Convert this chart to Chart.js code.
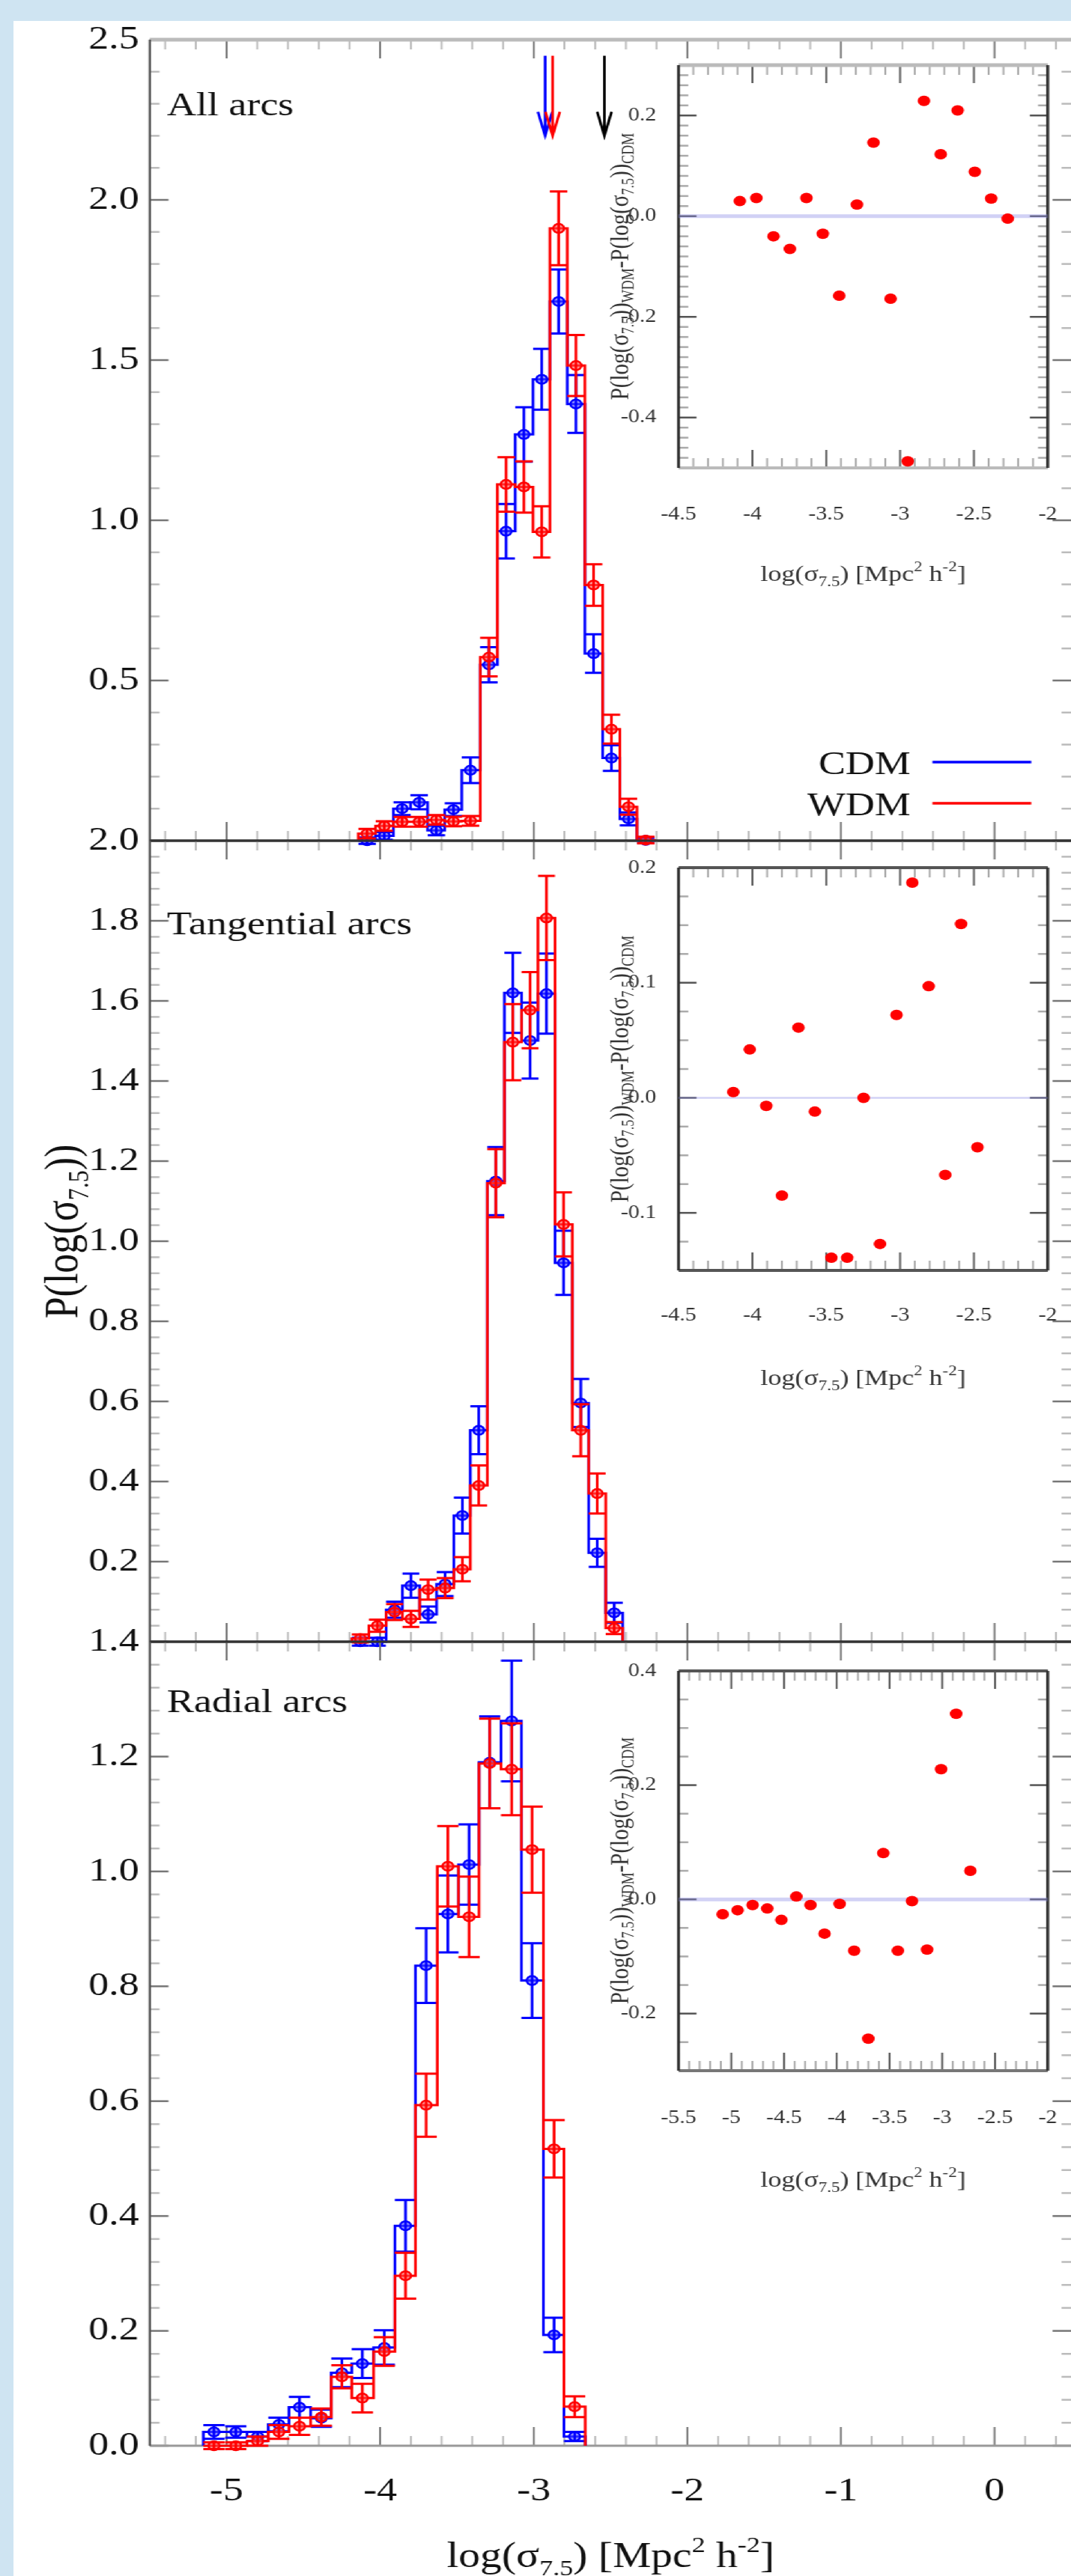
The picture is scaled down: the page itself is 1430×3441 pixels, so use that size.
<!DOCTYPE html>
<html>
<head>
<meta charset="utf-8">
<script src="https://cdn.jsdelivr.net/npm/chart.js@4.4.1/dist/chart.umd.min.js"></script>
<style>
  html, body { margin: 0; padding: 0; }
  body { width: 1430px; height: 3441px; background: #cfe4f2; position: relative; overflow: hidden; }
  #sheet { position: absolute; left: 18px; top: 28px; right: 0; bottom: 0; background: #fff; }
  /* the original figure is stretched sideways, so everything is drawn narrow and widened */
  #stretch { position: absolute; left: 0; top: 0; width: 1192px; height: 3441px; transform: scaleX(1.2); transform-origin: 0 0; }
  #stretch canvas { position: absolute; }
</style>
</head>
<body>
<div id="sheet"></div>
<div id="stretch"></div>
<script>
// --- DATA ---
// bin centres in log(sigma_7.5), values P(log(sigma_7.5)) with 1-sigma errors

// All arcs
const allBins = [-4.085, -3.973, -3.857, -3.746, -3.634, -3.523, -3.412, -3.292, -3.180, -3.064, -2.948, -2.838, -2.725, -2.610, -2.494, -2.383, -2.271];
const allBinWidth = 0.1134;
const allCDM = [0.000, 0.015, 0.100, 0.120, 0.032, 0.097, 0.220, 0.549, 0.966, 1.268, 1.440, 1.683, 1.363, 0.584, 0.258, 0.068, 0.001];
const allCDMErr = [0.010, 0.012, 0.020, 0.022, 0.015, 0.020, 0.040, 0.055, 0.085, 0.085, 0.095, 0.100, 0.090, 0.060, 0.040, 0.020, 0.008];
const allWDM = [0.022, 0.046, 0.059, 0.059, 0.065, 0.060, 0.062, 0.573, 1.112, 1.104, 0.964, 1.911, 1.483, 0.798, 0.348, 0.106, 0.002];
const allWDMErr = [0.015, 0.015, 0.015, 0.015, 0.015, 0.015, 0.015, 0.060, 0.085, 0.080, 0.080, 0.115, 0.095, 0.065, 0.045, 0.025, 0.010];
const allDiff = [0.030, 0.036, -0.040, -0.065, 0.036, -0.035, -0.158, 0.023, 0.146, -0.164, -0.487, 0.229, 0.123, 0.210, 0.088, 0.035, -0.005];

// Tangential arcs
const tanBins = [-4.129, -4.018, -3.906, -3.800, -3.688, -3.577, -3.465, -3.358, -3.247, -3.136, -3.024, -2.917, -2.806, -2.694, -2.587, -2.476];
const tanBinWidth = 0.1103;
const tanCDM = [0.000, 0.000, 0.080, 0.140, 0.068, 0.144, 0.315, 0.528, 1.150, 1.620, 1.501, 1.618, 0.946, 0.596, 0.222, 0.072];
const tanCDMErr = [0.010, 0.010, 0.020, 0.030, 0.020, 0.030, 0.045, 0.060, 0.085, 0.100, 0.095, 0.100, 0.080, 0.060, 0.035, 0.025];
const tanWDM = [0.008, 0.040, 0.074, 0.057, 0.130, 0.134, 0.181, 0.390, 1.145, 1.497, 1.577, 1.807, 1.042, 0.528, 0.370, 0.034];
const tanWDMErr = [0.010, 0.015, 0.020, 0.020, 0.025, 0.025, 0.030, 0.050, 0.085, 0.095, 0.095, 0.105, 0.080, 0.065, 0.050, 0.015];
const tanDiff = [0.005, 0.042, -0.007, -0.085, 0.061, -0.012, -0.139, -0.139, 0.000, -0.127, 0.072, 0.187, 0.097, -0.067, 0.151, -0.043];

// Radial arcs
const radBins = [-5.082, -4.940, -4.798, -4.659, -4.525, -4.383, -4.249, -4.116, -3.973, -3.835, -3.701, -3.559, -3.421, -3.287, -3.144, -3.011, -2.868, -2.734];
const radBinWidth = 0.1385;
const radCDM = [0.024, 0.024, 0.016, 0.037, 0.067, 0.048, 0.127, 0.143, 0.171, 0.383, 0.836, 0.926, 1.012, 1.190, 1.262, 0.810, 0.193, 0.016];
const radCDMErr = [0.012, 0.010, 0.008, 0.012, 0.018, 0.015, 0.025, 0.025, 0.030, 0.045, 0.065, 0.067, 0.070, 0.080, 0.105, 0.065, 0.030, 0.008];
const radWDM = [0.000, 0.000, 0.008, 0.024, 0.034, 0.050, 0.120, 0.083, 0.164, 0.296, 0.593, 1.009, 0.921, 1.188, 1.178, 1.038, 0.517, 0.068];
const radWDMErr = [0.006, 0.006, 0.008, 0.012, 0.015, 0.015, 0.020, 0.025, 0.025, 0.040, 0.055, 0.070, 0.070, 0.078, 0.080, 0.075, 0.050, 0.018];
const radDiff = [-0.026, -0.019, -0.010, -0.016, -0.036, 0.005, -0.010, -0.060, -0.008, -0.090, -0.244, 0.081, -0.090, -0.003, -0.088, 0.228, 0.325, 0.050];

// arrows in the top panel (CDM, WDM, reference)
const arrowX = [-2.926, -2.877, -2.540];
const arrowColors = ['#0000ff', '#ff0000', '#000000'];
const arrowTail = 2.45, arrowTip = 2.2;

// axes and tick labels
const mainXRange = [-5.5, 0.5];
const mainXTicks = [-5, -4, -3, -2, -1, 0];
const mainXLabels = ['-5', '-4', '-3', '-2', '-1', '0'];
const allYTicks = [0, 0.5, 1.0, 1.5, 2.0, 2.5];
const allYLabels = ['', '0.5', '1.0', '1.5', '2.0', '2.5'];
const tanYTicks = [0, 0.2, 0.4, 0.6, 0.8, 1.0, 1.2, 1.4, 1.6, 1.8, 2.0];
const tanYLabels = ['', '0.2', '0.4', '0.6', '0.8', '1.0', '1.2', '1.4', '1.6', '1.8', '2.0'];
const radYTicks = [0, 0.2, 0.4, 0.6, 0.8, 1.0, 1.2, 1.4];
const radYLabels = ['0.0', '0.2', '0.4', '0.6', '0.8', '1.0', '1.2', '1.4'];

const insetXRange = [-4.5, -2];
const insetXTicks = [-4.5, -4, -3.5, -3, -2.5, -2];
const insetXLabels = ['-4.5', '-4', '-3.5', '-3', '-2.5', '-2'];
const radInsetXRange = [-5.5, -2];
const radInsetXTicks = [-5.5, -5, -4.5, -4, -3.5, -3, -2.5, -2];
const radInsetXLabels = ['-5.5', '-5', '-4.5', '-4', '-3.5', '-3', '-2.5', '-2'];
const allInsetYRange = [-0.5, 0.3];
const allInsetYTicks = [-0.4, -0.2, 0, 0.2];
const allInsetYLabels = ['-0.4', '-0.2', '0.0', '0.2'];
const tanInsetYRange = [-0.15, 0.2];
const tanInsetYTicks = [-0.1, 0, 0.1, 0.2];
const tanInsetYLabels = ['-0.1', '0.0', '0.1', '0.2'];
const radInsetYRange = [-0.3, 0.4];
const radInsetYTicks = [-0.2, 0, 0.2, 0.4];
const radInsetYLabels = ['-0.2', '0.0', '0.2', '0.4'];

// --- STYLE ---
const S = 1.2; // sideways stretch of the figure
const BLUE = '#0000ff', RED = '#ff0000';
const SERIF = "'Liberation Serif', 'Times New Roman', 'DejaVu Serif', serif";
const X_TITLE = [['log(σ'], ['7.5', 'sub'], [') [Mpc'], ['2', 'sup'], [' h'], ['-2', 'sup'], [']']];
const Y_TITLE = [['P(log(σ'], ['7.5', 'sub'], ['))']];
const INSET_Y_TITLE = [['P(log(σ'], ['7.5', 'sub'], ['))'], ['WDM', 'sub'], ['-P(log(σ'], ['7.5', 'sub'], ['))'], ['CDM', 'sub']];

const $stretch = document.getElementById('stretch');

function addCanvas(left, top, width, height) {
    const c = document.createElement('canvas');
    c.width = Math.round(width);
    c.height = Math.round(height);
    c.style.left = left + 'px';
    c.style.top = top + 'px';
    $stretch.appendChild(c);
    return c;
}

// minor tick positions between min and max, skipping the major ones
function minorTicks(min, max, step, major) {
    const out = [];
    const n = Math.round((max - min) / step);
    for (let i = 0; i <= n; i++) {
        const v = +(min + i * step).toFixed(6);
        if (!major.some(m => Math.abs(m - v) < 1e-6)) out.push(v);
    }
    return out;
}

function zeroPad(s) {
    s.paddingTop = s.paddingBottom = s.paddingLeft = s.paddingRight = 0;
}

// text with sub/superscripts, y is the baseline
function drawRich(ctx, parts, x, y, size, color) {
    const small = Math.round(size * 0.62);
    const fontOf = kind => (kind ? small : size) + 'px ' + SERIF;
    let total = 0;
    parts.forEach(([t, kind]) => { ctx.font = fontOf(kind); total += ctx.measureText(t).width; });
    let cx = x - total / 2;
    ctx.fillStyle = color;
    ctx.textAlign = 'left';
    ctx.textBaseline = 'alphabetic';
    parts.forEach(([t, kind]) => {
        ctx.font = fontOf(kind);
        const dy = kind === 'sub' ? size * 0.22 : kind === 'sup' ? -size * 0.42 : 0;
        ctx.fillText(t, cx, y + dy);
        cx += ctx.measureText(t).width;
    });
}

function drawRichVertical(ctx, parts, cx, cy, size, color) {
    ctx.save();
    ctx.translate(cx, cy);
    ctx.rotate(-Math.PI / 2);
    drawRich(ctx, parts, 0, size * 0.3, size, color);
    ctx.restore();
}

// --- PLUGINS ---

// frame lines and inward ticks on all sides
function framePlugin(f) {
    return {
        id: 'frame',
        beforeDatasetsDraw(chart) {
            const { ctx, chartArea: a, scales: { x, y } } = chart;
            const seg = (x0, y0, x1, y1) => { ctx.beginPath(); ctx.moveTo(x0, y0); ctx.lineTo(x1, y1); ctx.stroke(); };
            ctx.save();
            ctx.lineWidth = 2.5;
            [[f.yMinor, f.minorLen, f.minorColor], [f.yMajor, f.majorLen, f.majorColor]].forEach(([vals, len, col]) => {
                ctx.strokeStyle = col;
                vals.forEach(v => {
                    const p = y.getPixelForValue(v);
                    seg(a.left, p, a.left + len / S, p);
                    seg(a.right, p, a.right - len / S, p);
                });
            });
            ctx.lineWidth = 2.5 / S;
            [[f.xMinor, f.minorLen, f.minorColor], [f.xMajor, f.majorLen, f.majorColor]].forEach(([vals, len, col]) => {
                ctx.strokeStyle = col;
                vals.forEach(v => {
                    const p = x.getPixelForValue(v);
                    seg(p, a.top, p, a.top + len);
                    seg(p, a.bottom, p, a.bottom - len);
                });
            });
            const e = f.edges;
            if (e.top) { ctx.strokeStyle = e.top[0]; ctx.lineWidth = e.top[1]; seg(a.left, a.top, a.right, a.top); }
            if (e.bottom) { ctx.strokeStyle = e.bottom[0]; ctx.lineWidth = e.bottom[1]; seg(a.left, a.bottom, a.right, a.bottom); }
            if (e.left) { ctx.strokeStyle = e.left[0]; ctx.lineWidth = e.left[1] / S; seg(a.left, a.top, a.left, a.bottom); }
            if (e.right) { ctx.strokeStyle = e.right[0]; ctx.lineWidth = e.right[1] / S; seg(a.right, a.top, a.right, a.bottom); }
            ctx.restore();
        }
    };
}

// vertical error bars with caps, drawn right after their marker dataset
const errorBars = {
    id: 'errorBars',
    afterDatasetDraw(chart, args) {
        const ds = chart.data.datasets[args.index];
        if (!ds.errors) return;
        const { ctx, scales: { x, y } } = chart;
        ctx.save();
        ctx.strokeStyle = ds.borderColor;
        ctx.lineWidth = 3;
        ds.data.forEach((p, i) => {
            const e = ds.errors[i];
            const px = x.getPixelForValue(p.x);
            const x0 = x.getPixelForValue(p.x - ds.capWidth / 2);
            const x1 = x.getPixelForValue(p.x + ds.capWidth / 2);
            const yt = y.getPixelForValue(p.y + e);
            const yb = y.getPixelForValue(p.y - e);
            ctx.beginPath();
            ctx.moveTo(px, yt); ctx.lineTo(px, yb);
            ctx.moveTo(x0, yt); ctx.lineTo(x1, yt);
            ctx.moveTo(x0, yb); ctx.lineTo(x1, yb);
            ctx.stroke();
        });
        ctx.restore();
    }
};

function textPlugin(draw) {
    return {
        id: 'texts',
        afterDraw(chart) {
            const ctx = chart.ctx;
            ctx.save();
            draw(chart, ctx);
            ctx.restore();
        }
    };
}

const arrowsPlugin = {
    id: 'arrows',
    afterDatasetsDraw(chart) {
        const { ctx, scales: { x, y } } = chart;
        ctx.save();
        ctx.lineWidth = 3;
        arrowX.forEach((v, i) => {
            const px = x.getPixelForValue(v);
            const y0 = y.getPixelForValue(arrowTail), y1 = y.getPixelForValue(arrowTip);
            ctx.strokeStyle = arrowColors[i];
            ctx.beginPath();
            ctx.moveTo(px, y0); ctx.lineTo(px, y1);
            ctx.moveTo(px - 8, y1 - 32); ctx.lineTo(px, y1); ctx.lineTo(px + 8, y1 - 32);
            ctx.stroke();
        });
        ctx.restore();
    }
};

// --- CHART BUILDERS ---

const stepPoints = (bins, w, vals) => [
    { x: bins[0] - w / 2, y: 0 },
    ...bins.map((c, i) => ({ x: c - w / 2, y: vals[i] })),
    { x: bins[bins.length - 1] + w / 2, y: 0 }
];
const points = (bins, vals) => bins.map((c, i) => ({ x: c, y: vals[i] }));

function markerSet(label, bins, vals, errs, w, color, fill, order) {
    return {
        label, data: points(bins, vals), showLine: false,
        pointRadius: 6, pointBackgroundColor: fill, pointBorderColor: color, pointBorderWidth: 2.5,
        borderColor: color, errors: errs, capWidth: w, order, clip: false
    };
}

function stepSet(label, bins, vals, w, color, order) {
    return {
        label, data: stepPoints(bins, w, vals), stepped: 'before',
        borderColor: color, borderWidth: 3, pointRadius: 0, fill: false, order, clip: false
    };
}

function histChart(canvas, p) {
    return new Chart(canvas, {
        type: 'line',
        data: {
            datasets: [
                markerSet('WDM', p.bins, p.wdm, p.wdmErr, p.w, RED, 'rgba(255,80,80,0.55)', 0),
                stepSet('WDM', p.bins, p.wdm, p.w, RED, 1),
                markerSet('CDM', p.bins, p.cdm, p.cdmErr, p.w, BLUE, 'rgba(80,80,255,0.55)', 2),
                stepSet('CDM', p.bins, p.cdm, p.w, BLUE, 3)
            ]
        },
        options: {
            responsive: false, animation: false, events: [],
            layout: { autoPadding: false, padding: { top: p.padTop, bottom: p.padBottom, left: 0, right: 0 } },
            plugins: { legend: { display: false }, tooltip: { enabled: false } },
            scales: {
                x: {
                    type: 'linear', min: mainXRange[0], max: mainXRange[1], display: p.showX,
                    grid: { display: false }, border: { display: false },
                    afterBuildTicks: s => { s.ticks = mainXTicks.map(v => ({ value: v })); },
                    ticks: { callback: (v, i) => mainXLabels[i], font: { family: SERIF, size: 45 }, color: '#111', padding: 26, maxRotation: 0, autoSkip: false },
                    afterFit: s => { s.height = p.xAxisHeight; zeroPad(s); }
                },
                y: {
                    type: 'linear', min: 0, max: p.yMax,
                    grid: { display: false }, border: { display: false },
                    afterBuildTicks: s => { s.ticks = p.yTicks.map(v => ({ value: v })); },
                    ticks: { callback: (v, i) => p.yLabels[i], font: { family: SERIF, size: 45 }, color: '#111', padding: 4, autoSkip: false },
                    afterFit: s => { s.width = 200 / S; zeroPad(s); }
                }
            }
        },
        plugins: [
            framePlugin({
                xMajor: mainXTicks, xMinor: minorTicks(-5.4, 0.4, 0.2, mainXTicks),
                yMajor: p.yTicks, yMinor: minorTicks(0, p.yMax, p.yMinorStep, p.yTicks),
                majorLen: 25, minorLen: 13, majorColor: '#777', minorColor: '#bbb', edges: p.edges
            }),
            errorBars,
            ...p.extra
        ]
    });
}

function insetChart(canvas, p) {
    return new Chart(canvas, {
        type: 'line',
        data: {
            datasets: [
                {
                    label: 'WDM-CDM', data: points(p.bins, p.diff), showLine: false,
                    pointRadius: 7, pointBackgroundColor: RED, pointBorderWidth: 0, order: 0, clip: false
                },
                {
                    label: 'zero', data: [{ x: p.xRange[0], y: 0 }, { x: p.xRange[1], y: 0 }],
                    borderColor: 'rgba(140,140,230,0.4)', borderWidth: p.zeroWidth, pointRadius: 0, order: 1
                }
            ]
        },
        options: {
            responsive: false, animation: false, events: [],
            layout: { autoPadding: false, padding: { top: 30, bottom: 0, left: 0, right: 26.2 } },
            plugins: { legend: { display: false }, tooltip: { enabled: false } },
            scales: {
                x: {
                    type: 'linear', min: p.xRange[0], max: p.xRange[1],
                    grid: { display: false }, border: { display: false },
                    afterBuildTicks: s => { s.ticks = p.xTicks.map(v => ({ value: v })); },
                    ticks: { callback: (v, i) => p.xLabels[i], font: { family: SERIF, size: 25 }, color: '#333', padding: p.xPad, maxRotation: 0, autoSkip: false },
                    afterFit: s => { s.height = 175; zeroPad(s); }
                },
                y: {
                    type: 'linear', min: p.yRange[0], max: p.yRange[1],
                    grid: { display: false }, border: { display: false },
                    afterBuildTicks: s => { s.ticks = p.yTicks.map(v => ({ value: v })); },
                    ticks: { callback: (v, i) => p.yLabels[i], font: { family: SERIF, size: 25 }, color: '#333', padding: 20 / S, autoSkip: false },
                    afterFit: s => { s.width = 105; zeroPad(s); }
                }
            }
        },
        plugins: [
            framePlugin({
                xMajor: p.xTicks, xMinor: minorTicks(p.xRange[0], p.xRange[1], 0.1, p.xTicks),
                yMajor: p.yTicks, yMinor: minorTicks(p.yRange[0], p.yRange[1], p.yMinorStep, p.yTicks),
                majorLen: 24, minorLen: 13, majorColor: '#555', minorColor: '#aaa', edges: p.edges
            }),
            textPlugin((chart, ctx) => {
                const a = chart.chartArea;
                drawRichVertical(ctx, INSET_Y_TITLE, 828 / S - 650, (a.top + a.bottom) / 2, 29, '#333');
                drawRich(ctx, X_TITLE, (a.left + a.right) / 2, a.bottom + p.titleOffset, 30, '#333');
            })
        ]
    });
}

// --- MAIN PANELS ---

histChart(addCanvas(0, 13, 1192, 1150), {
    bins: allBins, w: allBinWidth, cdm: allCDM, cdmErr: allCDMErr, wdm: allWDM, wdmErr: allWDMErr,
    yMax: 2.5, yTicks: allYTicks, yLabels: allYLabels, yMinorStep: 0.1,
    showX: false, xAxisHeight: 0, padTop: 40, padBottom: 40,
    edges: { top: ['#bbbbbb', 5], bottom: ['#333', 3], left: ['#555', 3] },
    extra: [
        arrowsPlugin,
        textPlugin((chart, ctx) => {
            const a = chart.chartArea;
            ctx.font = '45px ' + SERIF;
            ctx.fillStyle = '#111';
            ctx.textBaseline = 'alphabetic';
            ctx.textAlign = 'left';
            ctx.fillText('All arcs', a.left + 19, a.top + 101);
            // legend
            ctx.textAlign = 'right';
            ctx.fillText('CDM', a.right - 178.7, a.top + 981);
            ctx.fillText('WDM', a.right - 178.7, a.top + 1036);
            ctx.lineWidth = 3.5;
            ctx.strokeStyle = BLUE;
            ctx.beginPath(); ctx.moveTo(a.right - 154.5, a.top + 965); ctx.lineTo(a.right - 44.5, a.top + 965); ctx.stroke();
            ctx.strokeStyle = RED;
            ctx.beginPath(); ctx.moveTo(a.right - 154.5, a.top + 1020); ctx.lineTo(a.right - 44.5, a.top + 1020); ctx.stroke();
        })
    ]
});

histChart(addCanvas(0, 1083, 1192, 1150), {
    bins: tanBins, w: tanBinWidth, cdm: tanCDM, cdmErr: tanCDMErr, wdm: tanWDM, wdmErr: tanWDMErr,
    yMax: 2.0, yTicks: tanYTicks, yLabels: tanYLabels, yMinorStep: 0.04,
    showX: false, xAxisHeight: 0, padTop: 40, padBottom: 40,
    edges: { top: ['#333', 3], bottom: ['#333', 3], left: ['#555', 3] },
    extra: [
        textPlugin((chart, ctx) => {
            const a = chart.chartArea;
            ctx.font = '45px ' + SERIF;
            ctx.fillStyle = '#111';
            ctx.textBaseline = 'alphabetic';
            ctx.textAlign = 'left';
            ctx.fillText('Tangential arcs', a.left + 19, a.top + 125);
            drawRichVertical(ctx, Y_TITLE, 85 / S, 1645 - 1083, 52, '#111');
        })
    ]
});

histChart(addCanvas(0, 2153, 1192, 1288), {
    bins: radBins, w: radBinWidth, cdm: radCDM, cdmErr: radCDMErr, wdm: radWDM, wdmErr: radWDMErr,
    yMax: 1.4, yTicks: radYTicks, yLabels: radYLabels, yMinorStep: 0.04,
    showX: true, xAxisHeight: 174, padTop: 40, padBottom: 0,
    edges: { top: ['#333', 3], bottom: ['#999', 3], left: ['#555', 3] },
    extra: [
        textPlugin((chart, ctx) => {
            const a = chart.chartArea;
            ctx.font = '45px ' + SERIF;
            ctx.fillStyle = '#111';
            ctx.textBaseline = 'alphabetic';
            ctx.textAlign = 'left';
            ctx.fillText('Radial arcs', a.left + 19, a.top + 94);
            drawRich(ctx, X_TITLE, (a.left + a.right) / 2, a.bottom + 162, 48, '#111');
        })
    ]
});

// --- INSETS ---

insetChart(addCanvas(650, 57, 542, 743), {
    bins: allBins, diff: allDiff, xRange: insetXRange, xTicks: insetXTicks, xLabels: insetXLabels,
    yRange: allInsetYRange, yTicks: allInsetYTicks, yLabels: allInsetYLabels, yMinorStep: 0.02,
    xPad: 39, titleOffset: 151, zeroWidth: 5,
    edges: { top: ['#bbbbbb', 5], bottom: ['#bbbbbb', 4], left: ['#333', 4], right: ['#333', 4] }
});

insetChart(addCanvas(650, 1129, 542, 743), {
    bins: tanBins, diff: tanDiff, xRange: insetXRange, xTicks: insetXTicks, xLabels: insetXLabels,
    yRange: tanInsetYRange, yTicks: tanInsetYTicks, yLabels: tanInsetYLabels, yMinorStep: 0.025,
    xPad: 37, titleOffset: 153, zeroWidth: 2.5,
    edges: { top: ['#555', 4], bottom: ['#555', 4], left: ['#333', 4], right: ['#333', 4] }
});

insetChart(addCanvas(650, 2202, 542, 739), {
    bins: radBins, diff: radDiff, xRange: radInsetXRange, xTicks: radInsetXTicks, xLabels: radInsetXLabels,
    yRange: radInsetYRange, yTicks: radInsetYTicks, yLabels: radInsetYLabels, yMinorStep: 0.05,
    xPad: 40, titleOffset: 155, zeroWidth: 5,
    edges: { top: ['#555', 4], bottom: ['#777', 4], left: ['#333', 4], right: ['#333', 4] }
});
</script>
</body>
</html>
